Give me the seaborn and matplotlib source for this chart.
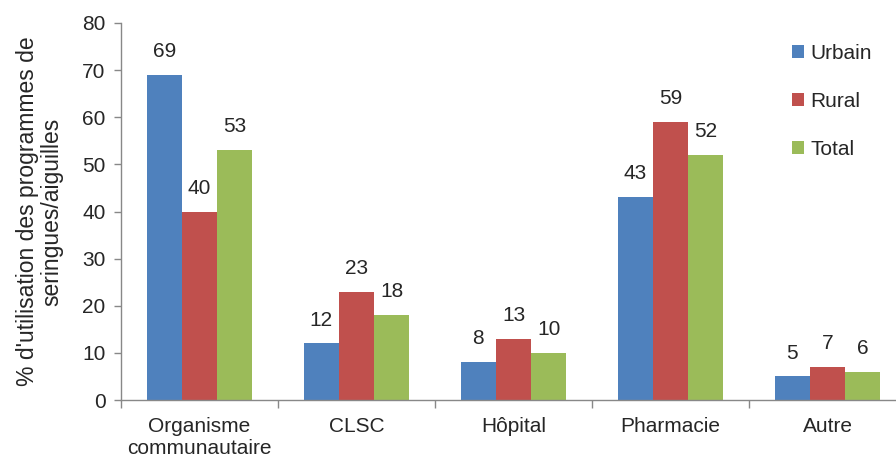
import matplotlib
matplotlib.use("Agg")
import matplotlib.pyplot as plt
import seaborn as sns
import pandas as pd
from matplotlib.ticker import FixedLocator

categories = ["Organisme\ncommunautaire", "CLSC", "Hôpital", "Pharmacie", "Autre"]
urbain = [69, 12, 8, 43, 5]
rural = [40, 23, 13, 59, 7]
total = [53, 18, 10, 52, 6]
series = ["Urbain", "Rural", "Total"]
colors = ["#4F81BD", "#C0504D", "#9BBB59"]

df = pd.DataFrame({
    "cat": categories * 3,
    "serie": ["Urbain"] * 5 + ["Rural"] * 5 + ["Total"] * 5,
    "val": urbain + rural + total,
})

sns.set_style("white")
plt.rcParams["font.family"] = ["Liberation Sans", "DejaVu Sans"]
fs = 15

fig = plt.figure(figsize=(8.96, 4.58), dpi=100)
ax = fig.add_axes([121 / 896, 58 / 458, 785 / 896, 377 / 458])

sns.barplot(data=df, x="cat", y="val", hue="serie", hue_order=series,
            palette=colors, width=0.67, saturation=1, linewidth=0, ax=ax, legend=True)

for c in ax.containers:
    ax.bar_label(c, fmt="%d", padding=10, fontsize=fs)

ax.set_ylim(0, 80)
ax.set_xlim(-0.5, 4.5)
ax.set_yticks(range(0, 81, 10))
ax.tick_params(axis="y", labelsize=fs, length=5, width=1, color="#888888", direction="out", left=True, pad=6)
ax.tick_params(axis="x", which="major", labelsize=fs, length=0, pad=12)
ax.xaxis.set_minor_locator(FixedLocator([-0.5, 0.5, 1.5, 2.5, 3.5, 4.5]))
ax.tick_params(axis="x", which="minor", length=6, width=1, color="#888888", direction="out", bottom=True)
ax.set_xlabel("")
ax.set_ylabel("% d'utilisation des programmes de\nseringues/aiguilles", fontsize=16.5, labelpad=14,
              linespacing=1.05)

for s in ["top", "right"]:
    ax.spines[s].set_visible(False)
for s in ["left", "bottom"]:
    ax.spines[s].set_color("#888888")
    ax.spines[s].set_linewidth(1)

leg = ax.legend(loc="upper left", bbox_to_anchor=(773 / 896, 433 / 458), bbox_transform=fig.transFigure,
                frameon=False, fontsize=fs, handlelength=0.6, handleheight=0.6,
                handletextpad=0.3, labelspacing=1.4)

fig.savefig("out.png", dpi=100)
